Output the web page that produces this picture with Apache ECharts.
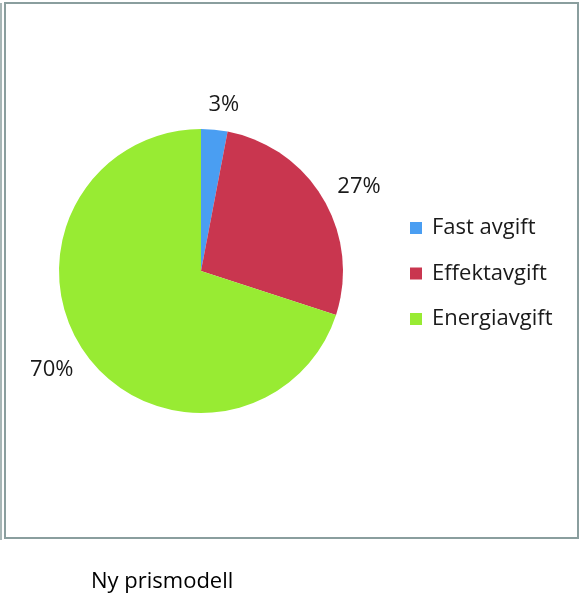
<!DOCTYPE html>
<html>
<head>
<meta charset="utf-8">
<script src="https://cdn.jsdelivr.net/npm/echarts@6/dist/echarts.min.js"></script>
<style>
html,body{margin:0;padding:0;background:#fff;}
#chart{width:583px;height:599px;}
</style>
</head>
<body>
<div id="chart"></div>
<script>
var categories = ['Fast avgift', 'Effektavgift', 'Energiavgift'];
var values = [3, 27, 70];
var colors = ['#4A9EF2', '#C9364F', '#98EB33'];
var titleText = 'Ny prismodell';

var CX = 201, CY = 271, R = 142, GAP = 13, SHIFT = 2.4 * Math.PI / 180;

var chart = echarts.init(document.getElementById('chart'));
var data = categories.map(function (c, i) {
  return { name: c, value: values[i], itemStyle: { color: colors[i] } };
});
var labelData = categories.map(function (c, i) {
  return { name: c, value: values[i] };
});
var border = '#8A9E9E';
chart.setOption({
  animation: false,
  title: {
    text: titleText,
    left: 86, top: 566,
    textStyle: { fontFamily: 'Open Sans', fontSize: 22, fontWeight: 'normal', color: '#000' }
  },
  legend: {
    orient: 'vertical',
    left: 405, top: 211,
    data: categories,
    icon: 'rect',
    itemWidth: 12, itemHeight: 12,
    itemGap: 21.5,
    selectedMode: false,
    textStyle: { fontFamily: 'Open Sans', fontSize: 22, color: '#1a1a1a', lineHeight: 24, padding: [0, 0, 0, 5] }
  },
  graphic: [
    { type: 'rect', shape: { x: 5, y: 3, width: 573, height: 535 }, style: { fill: 'none', stroke: border, lineWidth: 2 }, silent: true },
    { type: 'line', shape: { x1: 1, y1: 3, x2: 1, y2: 540 }, style: { stroke: border, lineWidth: 1.5 }, silent: true }
  ],
  series: [
    {
      type: 'pie',
      center: [CX, CY],
      radius: [0, R],
      startAngle: 90,
      clockwise: true,
      data: data,
      label: { show: false },
      labelLine: { show: false },
      silent: true,
      emphasis: { disabled: true }
    },
    {
      type: 'pie',
      center: [CX, CY],
      radius: [158, 196],
      startAngle: 90,
      clockwise: true,
      data: labelData,
      itemStyle: { color: 'rgba(0,0,0,0)' },
      label: {
        show: true,
        position: 'inside',
        formatter: '{d}%',
        fontFamily: 'Open Sans',
        fontSize: 22,
        color: '#1a1a1a'
      },
      labelLine: { show: false },
      labelLayout: function (p) {
        var r = p.labelRect;
        var mx = r.x + r.width / 2, my = r.y + r.height / 2;
        var a = Math.atan2(my - CY, mx - CX) + SHIFT;
        var ux = Math.cos(a), uy = Math.sin(a);
        var ext = Math.abs(ux) * r.width / 2 + Math.abs(uy) * r.height / 2;
        var dist = R + GAP + ext;
        return { x: CX + ux * dist, y: CY + uy * dist, align: 'center', verticalAlign: 'middle' };
      },
      silent: true,
      emphasis: { disabled: true }
    }
  ]
});
</script>
</body>
</html>
